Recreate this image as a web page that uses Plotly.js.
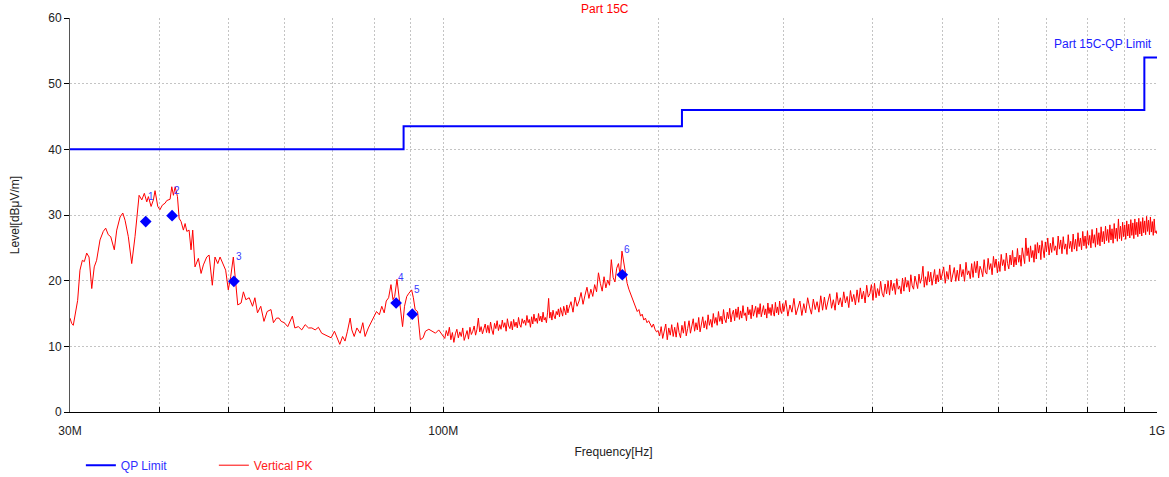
<!DOCTYPE html>
<html>
<head>
<meta charset="utf-8">
<script src="https://cdn.plot.ly/plotly-3.0.1.min.js"></script>
<style>html,body{margin:0;padding:0;background:#fff;}#chart{width:1169px;height:477px;}</style>
</head>
<body>
<div id="chart"></div>
<script>
// QP limit (frequency in MHz, level in dBµV/m)
const limitFreq = [30, 88, 216, 960, 1000];
const limitLevel = [40, 43.5, 46, 54, 54];

// Vertical PK sweep, segment 30–53 MHz
const pkFreqA = [30.0,30.16,30.32,30.55,30.75,30.98,31.22,31.42,31.66,31.9,32.18,32.44,32.69,33.05,33.4,33.66,33.94,34.21,34.61,34.88,35.26,35.57,35.83,36.21,36.61,37.0,37.49,37.82,38.13,38.43,38.63,38.97,39.26,39.47,39.82,40.1,40.41,40.77,40.99,41.43,41.66,41.88,42.11,42.43,42.66,42.93,43.25,43.49,43.73,44.05,44.33,44.57,44.9,45.39,45.79,46.13,46.63,46.99,47.48,47.89,48.32,48.68,49.2,49.57,49.99,50.38,50.81,51.21,51.54,52.1,52.49,52.9];
const pkLevelA = [14.3,13.5,13.2,15.0,17.0,21.6,23.1,22.9,24.2,23.6,18.8,22.1,23.1,26.2,27.5,28.0,27.0,26.7,24.7,27.7,29.7,30.3,29.2,26.7,22.6,26.7,33.0,32.3,33.3,32.0,32.8,31.3,32.3,33.7,31.3,30.8,31.5,31.8,32.2,32.4,34.3,33.0,34.3,32.8,29.5,29.0,27.7,28.7,27.5,27.7,24.7,27.7,22.1,23.4,21.1,22.4,23.6,23.9,19.3,23.6,22.6,23.6,22.4,21.6,18.6,20.6,23.6,20.1,16.3,16.6,18.3,17.1];

// segment 53–100 MHz
const pkFreqB = [53.48,54.06,54.47,54.93,55.51,56.09,56.67,57.37,57.83,58.41,58.87,59.3,59.88,60.56,61.47,61.96,62.66,63.36,64.06,64.76,65.46,66.16,66.86,67.56,68.26,68.96,69.66,70.41,71.22,71.63,72.28,72.85,73.42,74.07,74.47,75.04,75.69,76.5,77.15,77.72,78.54,79.35,79.92,80.64,81.38,82.02,82.66,83.21,83.85,84.49,85.04,85.5,86.14,86.6,87.06,87.71,88.26,88.9,89.54,90.31,90.82,91.34,92.06,92.88,93.71,94.43,95.46,96.5,97.53,98.56,99.59];
const pkLevelB = [17.4,16.1,17.4,15.1,16.1,13.8,15.3,15.6,13.6,14.3,14.3,13.8,13.6,13.0,14.6,12.8,13.0,12.5,13.3,12.8,12.8,12.5,12.9,12.0,11.8,11.5,11.3,12.3,11.0,10.3,11.5,10.8,12.3,14.3,12.5,11.5,12.8,12.0,13.6,11.5,12.8,13.8,14.3,15.3,14.8,16.1,15.1,16.9,17.4,19.4,17.1,17.6,20.2,18.1,16.6,13.0,16.1,17.6,18.1,18.6,17.4,15.6,15.3,11.0,11.3,12.3,12.6,12.3,12.0,12.5,11.8];

// segment 100.5–150 MHz
const pkFreqC1 = [100.5,101,101.5,102,102.5,103,103.5,104,104.5,105,105.5,106,106.5,107,107.5,108,108.5,109,109.5,110,
  110.5,111,111.5,112,112.5,113,113.5,114,114.5,115,115.5,116,116.5,117,117.5,118,118.5,119,119.5,120,
  120.5,121,121.5,122,122.5,123,123.5,124,124.5,125,125.5,126,126.5,127,127.5,128,128.5,129,129.5,130,
  130.5,131,131.5,132,132.5,133,133.5,134,134.5,135,135.5,136,136.5,137,137.5,138,138.5,139,139.5,140,
  140.5,141,141.5,142,142.5,143,143.5,144,144.5,145,145.5,146,146.5,147,147.5,148,148.5,149,149.5,150];
const pkLevelC1 = [11.2,12.4,11.6,12.9,11.0,12.1,10.6,11.9,12.6,11.3,
  12.2,11.5,12.8,10.9,11.7,12.4,11.1,12.9,11.8,12.3,
  13.1,11.7,12.6,14.3,12.2,13.0,11.9,12.8,13.4,12.1,
  13.2,12.0,13.7,12.5,11.8,13.5,12.7,13.9,12.4,13.3,
  12.6,14.0,12.9,13.6,12.3,14.2,13.1,12.7,13.8,12.5,
  14.1,13.0,13.7,12.8,14.4,13.3,12.9,14.2,13.5,14.0,
  13.2,14.7,13.6,14.1,12.9,14.5,13.4,14.9,13.8,14.3,
  13.5,15.0,13.9,14.6,13.7,15.2,14.0,14.4,13.6,15.1,
  17.3,14.3,15.2,14.0,15.5,14.6,14.2,15.3,14.8,15.7,
  14.5,15.9,15.0,14.6,16.1,15.2,14.8,16.3,15.1,15.8];

// segment 151–200 MHz
const pkFreqC2 = [151,152,153,154,155,156,157,158,159,160,161,162,163,164,165,166,167,168,169,170,171,172,173,174,175,176,177,178,179,180,181,182,183,184,185,186,187,188,189,190,191,192,193,194,195,196,197,198,199,200];
const pkLevelC2 = [16.8,15.2,17.5,16.1,16.9,18.2,16.4,17.8,19.0,17.3,
  18.7,17.6,19.4,18.3,21.2,19.6,18.4,20.6,18.9,20.1,
  19.3,23.2,20.5,19.8,21.9,22.6,20.8,24.5,22.8,21.7,
  19.6,18.7,18.0,17.6,16.8,16.2,15.3,15.6,14.6,14.9,
  14.0,14.3,13.6,13.9,13.3,12.9,13.4,12.6,12.2,12.4];

// segment 201–300 MHz
const pkFreqD1 = [201,202,203,204,205,206,207,208,209,210,211,212,213,214,215,216,217,218,219,220,
  221,222,223,224,225,226,227,228,229,230,231,232,233,234,235,236,237,238,239,240,
  241,242,243,244,245,246,247,248,249,250,251,252,253,254,255,256,257,258,259,260,
  261,262,263,264,265,266,267,268,269,270,271,272,273,274,275,276,277,278,279,280,
  281,282,283,284,285,286,287,288,289,290,291,292,293,294,295,296,297,298,299,300];
const pkLevelD1 = [11.6,13.0,11.2,12.5,13.4,11.0,12.8,11.7,13.3,11.5,
  12.9,11.4,13.6,12.1,11.3,13.2,12.0,13.8,11.6,12.7,
  13.9,12.0,13.1,14.2,12.3,13.6,12.5,14.4,12.2,13.7,
  14.5,12.8,13.9,12.6,14.8,13.2,14.1,12.9,15.0,13.5,
  14.4,13.2,15.3,13.8,14.6,13.4,15.6,14.1,13.6,15.2,
  14.2,15.8,13.7,14.9,15.5,13.9,15.7,14.4,16.0,14.1,
  15.4,14.3,16.2,14.7,15.1,13.9,16.0,14.8,15.6,14.2,
  16.3,14.6,15.4,16.1,14.4,15.9,14.9,16.5,14.5,15.3,
  16.2,14.8,15.7,14.3,16.6,15.0,15.9,14.7,16.4,15.2,
  14.6,16.7,15.1,16.0,14.8,16.9,15.4,15.0,16.5,15.3];

// segment 302–500 MHz
const pkFreqD2 = [302,304,306,308,310,312,314,316,318,320,322,324,326,328,330,332,334,336,338,340,
  342,344,346,348,350,352,354,356,358,360,362,364,366,368,370,372,374,376,378,380,
  382,384,386,388,390,392,394,396,398,400,402,404,406,408,410,412,414,416,418,420,
  422,424,426,428,430,432,434,436,438,440,442,444,446,448,450,452,454,456,458,460,
  462,464,466,468,470,472,474,476,478,480,482,484,486,488,490,492,494,496,498,500];
const pkLevelD2 = [17.0,14.6,16.3,15.2,17.3,14.8,16.0,16.9,14.7,16.5,
  15.1,17.4,16.0,14.9,17.2,15.6,16.8,15.2,17.7,15.5,
  17.5,15.6,16.9,18.0,15.8,17.1,15.5,18.2,16.3,17.4,
  16.0,18.3,16.6,17.6,15.9,18.5,16.8,17.9,16.3,18.6,
  16.7,18.9,17.2,18.4,16.6,19.3,17.5,18.0,19.4,17.0,
  19.6,17.4,18.8,17.7,19.9,18.1,17.5,19.5,18.0,20.0,
  17.8,20.1,18.5,19.6,17.9,20.3,18.7,19.2,18.0,20.4,
  18.4,20.5,19.0,20.0,18.3,20.9,19.2,18.7,20.7,19.5,
  18.8,21.0,19.6,20.4,22.2,19.0,20.6,19.3,21.4,19.8,
  21.3,19.3,20.8,21.7,19.5,20.9,19.8,21.8,20.1,21.2];

// segment 502.5–700 MHz
const pkFreqD3 = [502.5,505,507.5,510,512.5,515,517.5,520,522.5,525,527.5,530,532.5,535,537.5,540,542.5,545,547.5,550,
  552.5,555,557.5,560,562.5,565,567.5,570,572.5,575,577.5,580,582.5,585,587.5,590,592.5,595,597.5,600,
  602.5,605,607.5,610,612.5,615,617.5,620,622.5,625,627.5,630,632.5,635,637.5,640,642.5,645,647.5,650,
  652.5,655,657.5,660,662.5,665,667.5,670,672.5,675,677.5,680,682.5,685,687.5,690,692.5,695,697.5,700];
const pkLevelD3 = [22.1,19.6,21.4,20.2,22.4,19.8,21.1,22.0,19.9,21.6,
  20.0,22.5,20.6,21.7,19.9,22.8,20.9,21.5,20.3,22.6,
  20.5,22.9,21.2,23.0,20.4,22.2,21.6,20.6,23.2,21.3,
  21.0,23.4,21.7,22.6,20.9,23.7,22.0,23.3,21.2,22.9,
  21.4,24.0,22.3,23.2,21.5,24.2,22.6,21.8,23.9,22.4,
  24.6,22.1,23.6,22.4,24.9,22.8,23.9,22.2,25.0,23.4,
  22.6,26.5,23.8,25.0,22.9,25.3,23.5,24.6,22.8,25.5,
  23.3,25.8,24.2,25.4,23.2,26.1,24.6,23.5,25.9,24.4];

// segment 703–1000 MHz
const pkFreqD4 = [703,706,709,712,715,718,721,724,727,730,733,736,739,742,745,748,751,754,757,760,
  763,766,769,772,775,778,781,784,787,790,793,796,799,802,805,808,811,814,817,820,
  823,826,829,832,835,838,841,844,847,850,853,856,859,862,865,868,871,874,877,880,
  883,886,889,892,895,898,901,904,907,910,913,916,919,922,925,928,931,934,937,940,
  943,946,949,952,955,958,961,964,967,970,973,976,979,982,985,988,991,994,997,1000];
const pkLevelD4 = [26.5,23.9,25.7,24.3,26.6,24.6,25.3,23.9,26.8,24.8,
  26.2,24.1,26.7,24.8,25.6,24.0,27.0,24.9,26.0,24.4,
  27.1,24.8,26.3,24.5,27.3,25.2,26.5,24.7,27.5,25.3,
  26.8,24.9,27.6,25.4,26.9,25.0,27.8,25.7,27.0,25.1,
  28.0,25.5,27.3,25.3,28.2,25.9,27.5,25.6,28.3,26.1,
  27.8,25.8,28.5,26.2,27.9,25.7,28.7,26.4,28.0,26.0,
  29.4,26.4,28.3,26.1,28.9,26.7,28.5,26.3,29.1,26.8,
  28.6,26.5,29.3,26.9,28.8,26.4,29.4,27.0,28.9,26.7,
  29.5,27.1,29.0,26.8,29.6,27.3,29.1,27.0,29.8,27.5,
  29.2,27.0,29.7,27.4,29.0,26.9,29.4,27.3,27.6,27.1];

// QP measured markers
const markerFreq = [38.3, 41.7, 50.9, 85.9, 90.5, 178.2];
const markerLevel = [29.0, 29.9, 19.9, 16.6, 14.9, 20.9];
const markerLabel = ['1', '2', '3', '4', '5', '6'];

// axis ticks
const xTickVals = [30,40,50,60,70,80,90,100,200,300,400,500,600,700,800,900,1000];
const xTickText = ['30M','','','','','','','100M','','','','','','','','','1G'];

const pkFreq = pkFreqA.concat(pkFreqB, pkFreqC1, pkFreqC2, pkFreqD1, pkFreqD2, pkFreqD3, pkFreqD4);
const pkLevel = pkLevelA.concat(pkLevelB, pkLevelC1, pkLevelC2, pkLevelD1, pkLevelD2, pkLevelD3, pkLevelD4);

const FONT = 'Liberation Sans, Arial, sans-serif';

const traces = [
  {x: limitFreq, y: limitLevel, type: 'scatter', mode: 'lines', line: {shape: 'hv', color: '#0000ff', width: 2},
   name: '<span style="color:#3030ff">QP Limit</span>', hoverinfo: 'skip'},
  {x: pkFreq, y: pkLevel, type: 'scatter', mode: 'lines', line: {color: '#ff0000', width: 1},
   name: '<span style="color:#ff2020">Vertical PK</span>'},
  {x: markerFreq, y: markerLevel, type: 'scatter', mode: 'markers',
   marker: {symbol: 'diamond', color: '#0000ff', size: 9}, showlegend: false}
];

const annotations = markerLabel.map((t, i) => ({
  x: Math.log10(markerFreq[i]), y: markerLevel[i], xref: 'x', yref: 'y', text: t, showarrow: false,
  xshift: 5, yshift: 25, font: {family: FONT, size: 10, color: '#3a3aff'}
}));
annotations.push({x: 1, y: 56, xref: 'paper', yref: 'y', xanchor: 'right', yanchor: 'middle', xshift: -3,
  text: 'Part 15C-QP Limit', showarrow: false, font: {family: FONT, size: 12, color: '#2020ff'}});

const layout = {
  width: 1169, height: 477,
  margin: {l: 70, r: 12, t: 18, b: 65, autoexpand: false},
  paper_bgcolor: '#ffffff', plot_bgcolor: '#ffffff',
  font: {family: FONT, size: 12, color: '#333'},
  title: {text: 'Part 15C', font: {family: FONT, size: 12, color: '#ff0000'}, x: 0.492, xref: 'paper', y: 0.981, yref: 'container', yanchor: 'middle'},
  xaxis: {type: 'log', range: [Math.log10(30), 3], tickvals: xTickVals, ticktext: xTickText, automargin: false,
    ticks: 'inside', ticklen: 5, tickcolor: '#000', ticklabelstandoff: 8, showline: true, linecolor: '#000', linewidth: 1,
    showgrid: true, gridcolor: '#c4c4c4', griddash: '2px,2px', zeroline: false,
    tickfont: {family: FONT, size: 12, color: '#222'},
    title: {text: 'Frequency[Hz]', font: {family: FONT, size: 12, color: '#222'}, standoff: 10}},
  yaxis: {range: [0, 60], dtick: 10, ticks: 'outside', ticklen: 5, tickcolor: '#000', showline: true, linecolor: '#555', linewidth: 1,
    showgrid: true, gridcolor: '#c4c4c4', griddash: '2px,2px', zeroline: false, automargin: false,
    tickfont: {family: FONT, size: 12, color: '#222'},
    title: {text: 'Level[dBμV/m]', font: {family: FONT, size: 12, color: '#222'}, standoff: 26}},
  showlegend: true,
  legend: {orientation: 'h', x: 0.01, y: -0.135, xanchor: 'left', yanchor: 'middle', entrywidth: 88, entrywidthmode: 'pixels',
    font: {family: FONT, size: 12}, bgcolor: 'rgba(0,0,0,0)'},
  annotations: annotations
};

Plotly.newPlot('chart', traces, layout, {displayModeBar: false, staticPlot: true});
</script>
</body>
</html>
